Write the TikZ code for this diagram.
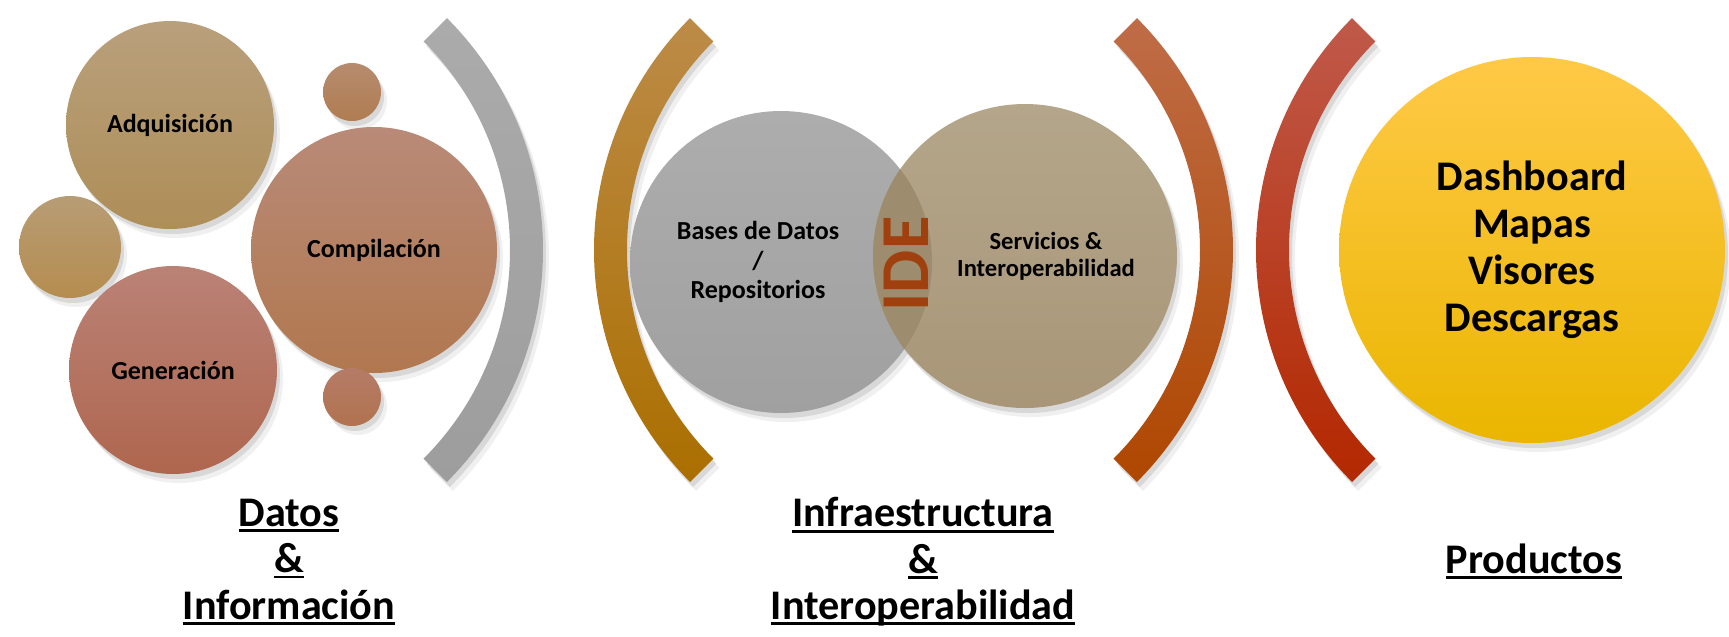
\documentclass[tikz,border=0pt]{standalone}
\usepackage{fontspec}
\setmainfont{Carlito}
\newcommand{\rayado}[1]{\setbox0\hbox{#1}\rlap{\rule[-1.6pt]{\wd0}{0.85pt}}\box0}

\begin{document}
\begin{tikzpicture}[x=0.1mm, y=0.1mm, every node/.style={font=\bfseries}]
  \definecolor{adqA}{HTML}{B9A07C} \definecolor{adqB}{HTML}{AE8E58}
  \definecolor{compA}{HTML}{B98A78} \definecolor{compB}{HTML}{B1784F}
  \definecolor{genA}{HTML}{BA8276} \definecolor{genB}{HTML}{AF664E}
  \definecolor{bdA}{HTML}{ADADAD} \definecolor{bdB}{HTML}{A0A0A0}
  \definecolor{servA}{HTML}{B4A68A} \definecolor{servB}{HTML}{A99678}
  \definecolor{lente}{HTML}{9D8C6E} \definecolor{ide}{HTML}{A0400F}
  \definecolor{prodA}{HTML}{FFC947} \definecolor{prodM}{HTML}{FFC305} \definecolor{prodB}{HTML}{EAB600}
  \definecolor{arcGrisA}{HTML}{ABABAB} \definecolor{arcGrisB}{HTML}{9D9D9D}
  \definecolor{arcOroA}{HTML}{BC8B47} \definecolor{arcOroB}{HTML}{AB6F00}
  \definecolor{arcNarA}{HTML}{BF6C47} \definecolor{arcNarB}{HTML}{AF4700}
  \definecolor{arcRojA}{HTML}{C0594A} \definecolor{arcRojB}{HTML}{B32800}
  \tikzstyle{sombra}=[preaction={fill=black, opacity=.10, transform canvas={xshift=.3mm, yshift=-.5mm}},
                      preaction={fill=black, opacity=.06, transform canvas={xshift=.6mm, yshift=-.9mm}}]
  \tikzstyle{bola}=[circle, inner sep=0pt, sombra]
  \tikzstyle{chico}=[font=\fontsize{7.4}{8.4}\selectfont\bfseries, align=center]
  \tikzstyle{titulo}=[font=\fontsize{12}{13.2}\selectfont\bfseries, align=center]
  \useasboundingbox (0,0) rectangle (1729,636);

  % arcos
  \foreach \cx/\a/\ca/\cb in {215/0/arcGrisA/arcGrisB, 922/180/arcOroA/arcOroB,
                              905/0/arcNarA/arcNarB, 1584/180/arcRojA/arcRojB}
    \path[sombra, top color=\ca, bottom color=\cb, shift={(\cx,386)}]
      ({\a+45}:328) arc[start angle=\a+45, end angle=\a-45, radius=328]
      -- ({\a-45}:295) arc[start angle=\a-45, end angle=\a+45, radius=295] -- cycle;

  % datos
  \node[bola, minimum size=20.8mm, top color=adqA, bottom color=adqB, chico] (adq) at (170,511) {Adquisici\'on};
  \node[bola, minimum size=10.2mm, top color=adqA!80!adqB, bottom color=adqB!90!orange] (bolaL) at (70,389) {};
  \node[bola, minimum size=5.8mm, top color=compA!70!adqB, bottom color=compB!80!adqB] (bolaT) at (352,544) {};
  \node[bola, minimum size=24.6mm, top color=compA, bottom color=compB, chico] (comp) at (374,386) {Compilaci\'on};
  \node[bola, minimum size=5.8mm, top color=compA!60!genB, bottom color=compB!70!genB] (bolaB) at (352,239) {};
  \node[bola, minimum size=20.8mm, top color=genA, bottom color=genB, chico] (gen) at (173,266) {Generaci\'on};

  % infraestructura
  \node[bola, minimum size=30.2mm, top color=bdA, bottom color=bdB] (bd) at (781,374) {};
  \node[bola, minimum size=30.4mm, top color=servA, bottom color=servB] (serv) at (1025,380) {};
  \begin{scope}
    \clip (bd.center) circle[radius=151];
    \fill[lente] (serv.center) circle[radius=152];
  \end{scope}
  \node[chico] (bdtxt) at ([xshift=-2.3mm]bd.center) {Bases de Datos\\/\\Repositorios};
  \node[font=\fontsize{7}{7.7}\selectfont\bfseries, align=center] (servtxt) at ([xshift=2.1mm]serv.center) {Servicios \&\\Interoperabilidad};
  \node[rotate=90, text=ide, font=\fontsize{19.5}{20}\selectfont\bfseries] (ide) at (906,372) {IDE};

  % productos
  \node[bola, minimum size=38.6mm, top color=prodA, middle color=prodM, bottom color=prodB,
        font=\fontsize{12}{13.4}\selectfont\bfseries, align=center] (prod) at (1532,386) {Dashboard\\Mapas\\Visores\\Descargas};

  % titulos
  \node[titulo] (datos) at (289,74) {\rayado{Datos}\\\rayado{\&}\\\rayado{Informaci\'on}};
  \node[titulo] (infra) at (923,74) {\rayado{Infraestructura}\\\rayado{\&}\\\rayado{Interoperabilidad}};
  \node[titulo, anchor=base] (prods) at (1534,63) {\rayado{Productos}};
\end{tikzpicture}
\end{document}
